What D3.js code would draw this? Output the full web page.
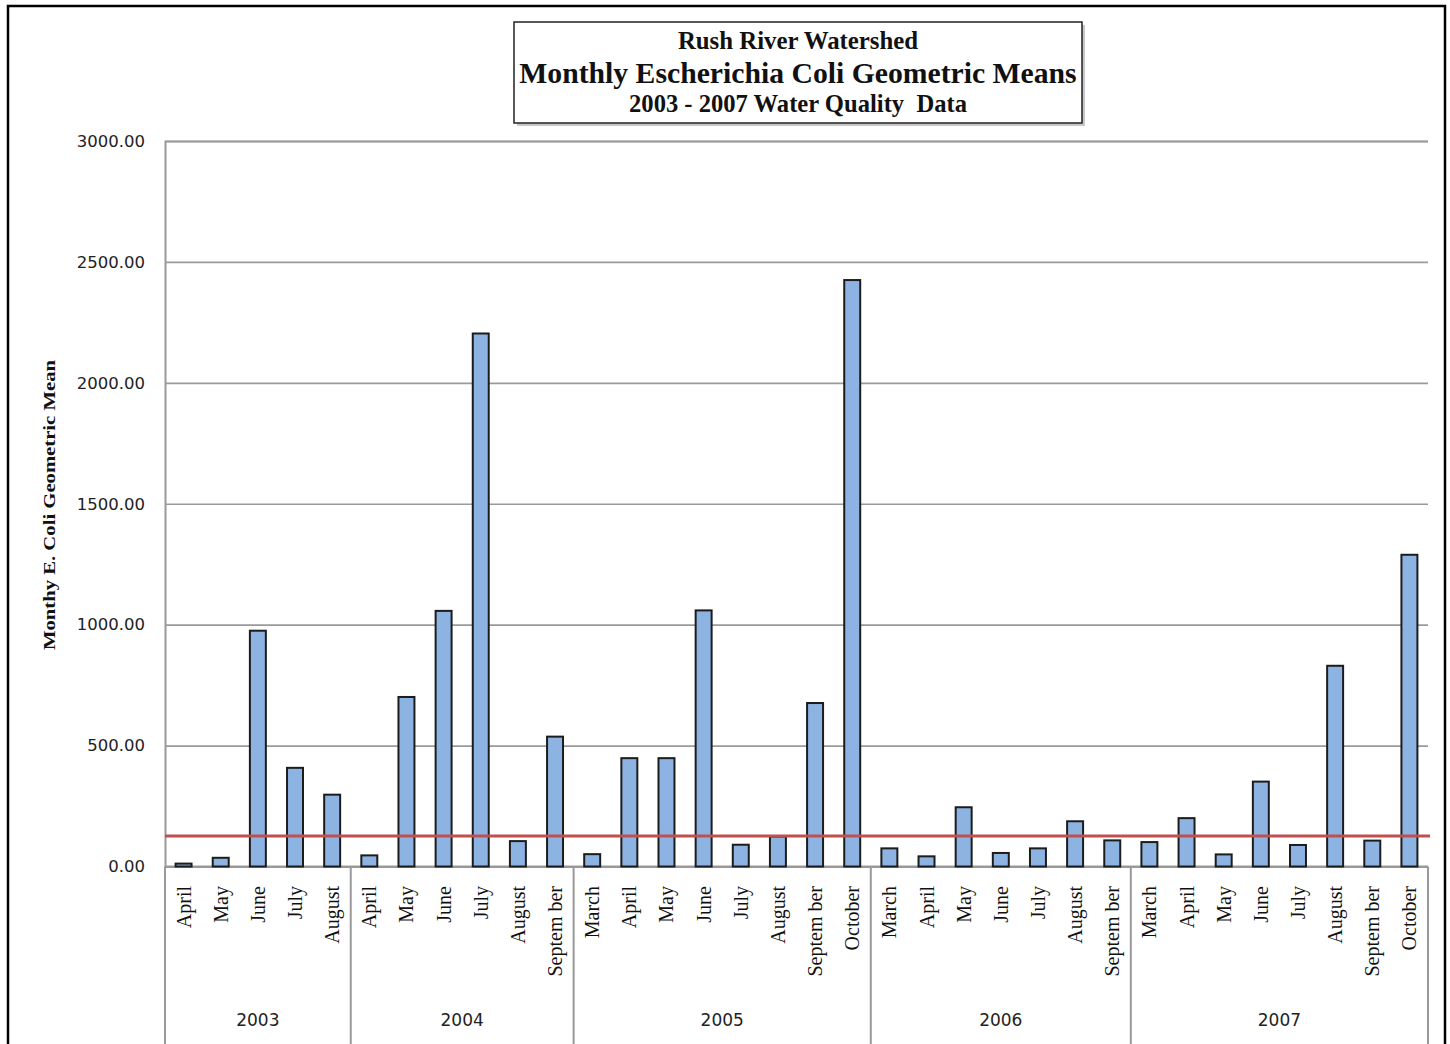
<!DOCTYPE html>
<html>
<head>
<meta charset="utf-8">
<script src="https://cdn.jsdelivr.net/npm/d3@7"></script>
<style>
  html, body { margin: 0; padding: 0; background: #fff; }
  svg { display: block; }
</style>
</head>
<body>
<svg id="chart" width="1450" height="1044"></svg>
<script>
// Monthly E. coli geometric means, Rush River watershed, 2003-2007
const years = ["2003", "2004", "2005", "2006", "2007"];
const monthsPerYear = [5, 6, 8, 7, 8];
const months = [
  "April", "May", "June", "July", "August",
  "April", "May", "June", "July", "August", "Septem ber",
  "March", "April", "May", "June", "July", "August", "Septem ber", "October",
  "March", "April", "May", "June", "July", "August", "Septem ber",
  "March", "April", "May", "June", "July", "August", "Septem ber", "October"
];
const geoMeans = [
  12, 36, 975, 408, 297,
  46, 701, 1057, 2204, 105, 537,
  51, 448, 448, 1059, 90, 124, 676, 2425,
  75, 42, 245, 56, 75, 187, 108,
  101, 200, 50, 351, 89, 830, 107, 1289
];
const standardLimit = 126;
const yTicks = [0, 500, 1000, 1500, 2000, 2500, 3000];
const titleLines = ["Rush River Watershed", "Monthly Escherichia Coli Geometric Means", "2003 - 2007 Water Quality  Data"];
const yAxisTitle = "Monthy E. Coli Geometric Mean";

const svg = d3.select("#chart");
const plot = { left: 165, right: 1428, top: 141, bottom: 866.5 };

// outer chart frame
svg.append("rect")
  .attr("x", 8).attr("y", 6).attr("width", 1437).attr("height", 1060)
  .attr("fill", "none").attr("stroke", "#000").attr("stroke-width", 2.5);

const x = d3.scaleBand()
  .domain(d3.range(months.length))
  .range([plot.left, plot.right])
  .paddingInner(0.57)
  .paddingOuter(0.285);

const y = d3.scaleLinear().domain([0, 3000]).range([plot.bottom, plot.top]);

// gridlines + value labels
const yAxis = d3.axisLeft(y)
  .tickValues(yTicks)
  .tickFormat(d3.format(".2f"))
  .tickSize(-(plot.right - plot.left))
  .tickPadding(20);

const gy = svg.append("g")
  .attr("transform", `translate(${plot.left},0)`)
  .call(yAxis);
gy.select(".domain").attr("stroke", "#999").attr("stroke-width", 2);
gy.selectAll(".tick line").attr("stroke", "#9a9a9a").attr("stroke-width", 1.6);
gy.selectAll(".tick text")
  .attr("fill", "#222")
  .style("font-family", "'DejaVu Sans', sans-serif")
  .style("font-size", "16.5px");

// category axis: baseline and year group separators
const half = (x.step() - x.bandwidth()) / 2;
let starts = [];
let acc = 0;
monthsPerYear.forEach(n => { starts.push(acc); acc += n; });
const boundaries = starts.map(s => x(s) - half).concat([x(months.length - 1) + x.bandwidth() + half]);

svg.append("line")
  .attr("x1", plot.left).attr("x2", plot.right)
  .attr("y1", plot.bottom).attr("y2", plot.bottom)
  .attr("stroke", "#999").attr("stroke-width", 2);

svg.selectAll("line.sep")
  .data(boundaries)
  .join("line")
  .attr("class", "sep")
  .attr("x1", d => d).attr("x2", d => d)
  .attr("y1", plot.bottom).attr("y2", 1050)
  .attr("stroke", "#999").attr("stroke-width", 2);

// bars
svg.selectAll("rect.bar")
  .data(geoMeans)
  .join("rect")
  .attr("class", "bar")
  .attr("x", (d, i) => x(i))
  .attr("width", x.bandwidth())
  .attr("y", d => y(d))
  .attr("height", d => y(0) - y(d))
  .attr("fill", "#8db3e2")
  .attr("stroke", "#1c1c1c")
  .attr("stroke-width", 2);

// standard limit line
svg.append("line")
  .attr("x1", plot.left).attr("x2", plot.right + 2)
  .attr("y1", y(standardLimit)).attr("y2", y(standardLimit))
  .attr("stroke", "#c0504d").attr("stroke-width", 3);

// month labels
svg.selectAll("text.month")
  .data(months)
  .join("text")
  .attr("class", "month")
  .attr("transform", (d, i) => `translate(${x(i) + x.bandwidth() / 2},886) rotate(-90)`)
  .attr("text-anchor", "end")
  .attr("dy", "0.35em")
  .style("font-family", "'Liberation Serif', 'Times New Roman', serif")
  .style("font-size", "20px")
  .attr("fill", "#111")
  .text(d => d);

// year labels
svg.selectAll("text.year")
  .data(years)
  .join("text")
  .attr("class", "year")
  .attr("x", (d, i) => (boundaries[i] + boundaries[i + 1]) / 2)
  .attr("y", 1026)
  .attr("text-anchor", "middle")
  .style("font-family", "'DejaVu Sans', sans-serif")
  .style("font-size", "17px")
  .attr("fill", "#222")
  .text(d => d);

// y axis title
svg.append("text")
  .attr("transform", "translate(55,505) rotate(-90)")
  .attr("text-anchor", "middle")
  .attr("textLength", 290)
  .attr("lengthAdjust", "spacingAndGlyphs")
  .style("font-family", "'Liberation Serif', 'Times New Roman', serif")
  .style("font-weight", "bold")
  .style("font-size", "17px")
  .attr("fill", "#111")
  .text(yAxisTitle);

// title box with shadow
const tb = { x: 514, y: 22, w: 568, h: 101 };
svg.append("rect")
  .attr("x", tb.x + 3).attr("y", tb.y + 3).attr("width", tb.w).attr("height", tb.h)
  .attr("fill", "#c8c8c8");
svg.append("rect")
  .attr("x", tb.x).attr("y", tb.y).attr("width", tb.w).attr("height", tb.h)
  .attr("fill", "#fff").attr("stroke", "#222").attr("stroke-width", 1.5);

const titleSizes = [24.8, 29.7, 24.6];
const titleY = [49, 83, 112];
svg.selectAll("text.title")
  .data(titleLines)
  .join("text")
  .attr("class", "title")
  .attr("x", tb.x + tb.w / 2)
  .attr("y", (d, i) => titleY[i])
  .attr("text-anchor", "middle")
  .style("white-space", "pre")
  .style("font-family", "'Liberation Serif', 'Times New Roman', serif")
  .style("font-weight", "bold")
  .style("font-size", (d, i) => titleSizes[i] + "px")
  .attr("fill", "#111")
  .text(d => d);
</script>
</body>
</html>
